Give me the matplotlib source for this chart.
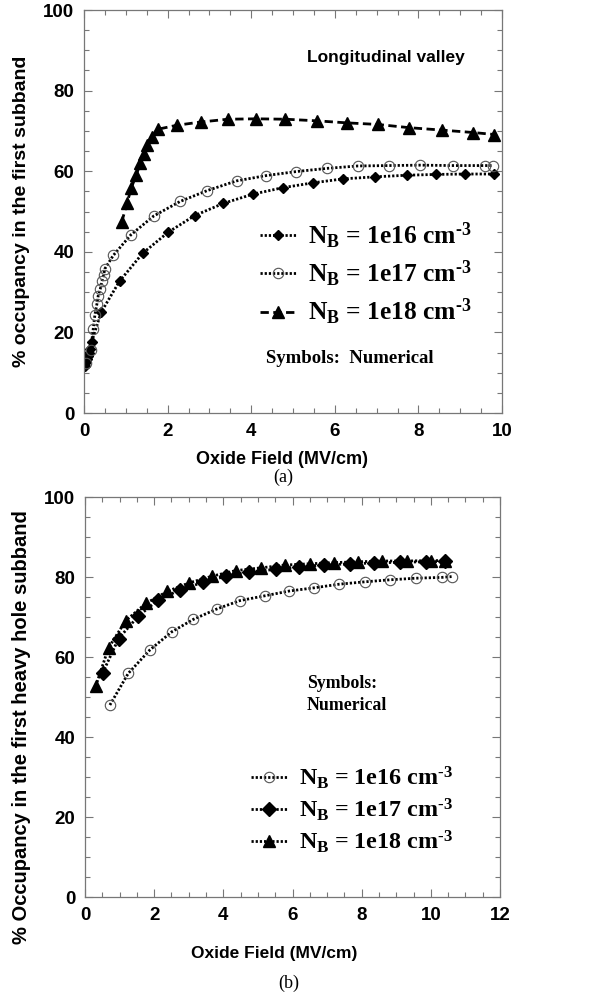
import matplotlib
matplotlib.use("Agg")
import matplotlib.pyplot as plt

plt.rcParams['font.family'] = ['Liberation Sans', 'DejaVu Sans']
plt.rcParams['font.weight'] = 'bold'
plt.rcParams['mathtext.fontset'] = 'custom'
plt.rcParams['mathtext.rm'] = 'Liberation Serif:bold'
plt.rcParams['mathtext.it'] = 'Liberation Serif:bold'
plt.rcParams['mathtext.bf'] = 'Liberation Serif:bold'

# ---- panel (a): longitudinal valley ----
a16_x = [0.03, 0.055, 0.07, 0.09, 0.11, 0.14, 0.18, 0.41, 0.85, 1.40, 2.02, 2.65,
         3.33, 4.04, 4.75, 5.47, 6.20, 6.96, 7.72, 8.42, 9.12, 9.81]
a16_y = [11.6, 12.6, 13.3, 14.1, 14.9, 15.9, 17.5, 25.0, 32.7, 39.6, 44.9, 49.0,
         52.0, 54.3, 55.9, 57.1, 58.1, 58.6, 59.0, 59.2, 59.3, 59.3]

a17_x = [0.05, 0.16, 0.22, 0.26, 0.31, 0.34, 0.39, 0.43, 0.47, 0.50, 0.70, 1.12,
         1.67, 2.30, 2.95, 3.65, 4.35, 5.07, 5.81, 6.55, 7.30, 8.05, 8.82, 9.59, 9.79]
a17_y = [12.5, 15.7, 20.8, 24.3, 27.1, 29.1, 30.8, 32.7, 34.3, 35.8, 39.1, 44.2,
         48.9, 52.5, 55.2, 57.6, 58.9, 59.9, 60.7, 61.3, 61.4, 61.5, 61.4, 61.4, 61.4]

a18_x = [0.90, 1.03, 1.13, 1.25, 1.35, 1.43, 1.51, 1.62, 1.76, 2.22, 2.79, 3.44,
         4.11, 4.82, 5.57, 6.28, 7.03, 7.78, 8.56, 9.31, 9.82]
a18_y = [47.3, 52.1, 55.8, 59.1, 62.0, 64.3, 66.4, 68.6, 70.4, 71.4, 72.2, 72.9,
         73.0, 72.9, 72.5, 72.0, 71.6, 70.8, 70.2, 69.6, 69.1]

# ---- panel (b): heavy hole subband ----
b16_x = [0.72, 1.25, 1.88, 2.51, 3.13, 3.81, 4.48, 5.20, 5.91, 6.63, 7.35, 8.10,
         8.82, 9.57, 10.31, 10.60]
b16_y = [48.0, 55.9, 61.8, 66.3, 69.4, 72.0, 74.1, 75.3, 76.5, 77.3, 78.2, 78.8,
         79.3, 79.7, 79.9, 80.1]

b17_x = [0.51, 0.97, 1.54, 2.12, 2.76, 3.42, 4.08, 4.75, 5.51, 6.20, 6.92, 7.65,
         8.37, 9.10, 9.85, 10.42]
b17_y = [56.0, 64.6, 70.2, 74.3, 76.8, 78.7, 80.2, 81.3, 81.9, 82.6, 83.0, 83.3,
         83.5, 83.7, 83.8, 83.9]

b18_x = [0.31, 0.68, 1.18, 1.76, 2.38, 3.00, 3.67, 4.36, 5.10, 5.79, 6.50, 7.20,
         7.90, 8.60, 9.30, 10.00, 10.40]
b18_y = [52.7, 62.3, 69.1, 73.4, 76.4, 78.5, 80.2, 81.6, 82.3, 83.0, 83.3, 83.6,
         83.8, 84.0, 84.0, 84.1, 84.1]

labels = ['$\\mathrm{N_B}$ = 1e16 cm$^{\u2010\\mathrm{3}}$',
          '$\\mathrm{N_B}$ = 1e17 cm$^{\u2010\\mathrm{3}}$',
          '$\\mathrm{N_B}$ = 1e18 cm$^{\u2010\\mathrm{3}}$']

dots = (0, (0.8, 0.7))
dashes = (0, (3.0, 1.6))
spine_col = '#777777'

fig = plt.figure(figsize=(6.04, 9.96), dpi=100)
ax1 = fig.add_axes([84/604, 1-413/996, 418/604, 403/996])
ax2 = fig.add_axes([85/604, 1-897/996, 415/604, 400/996])


def style_axes(ax, xmax):
    ax.set_xlim(0, xmax)
    ax.set_ylim(0, 100)
    ax.set_xticks(range(0, xmax + 1, 2))
    ax.set_yticks(range(0, 101, 20))
    ax.set_xticks([i * 0.5 for i in range(0, 2 * xmax + 1)], minor=True)
    ax.set_yticks(range(0, 101, 5), minor=True)
    for s in ax.spines.values():
        s.set_color(spine_col)
        s.set_linewidth(0.9)
    ax.tick_params(which='both', direction='in', top=True, right=True,
                   color=spine_col, width=0.8, labelsize=13.5, pad=7)
    ax.tick_params(which='major', length=6)
    ax.tick_params(which='minor', length=3.5)
    for t in ax.get_xticklabels() + ax.get_yticklabels():
        t.set_fontweight('bold')


# panel (a)
ax1.plot(a16_x, a16_y, color='black', linestyle=dots, lw=2.0, marker='D',
         ms=4.8, mfc='black', mec='black', label=labels[0])
ax1.plot(a17_x, a17_y, color='black', linestyle=dots, lw=2.0, marker='o',
         ms=7.5, mfc='none', mec='#555555', mew=0.8, label=labels[1])
ax1.plot(a18_x, a18_y, color='black', linestyle=dashes, lw=2.0, marker='^',
         ms=8.5, mfc='black', mec='black', label=labels[2])
style_axes(ax1, 10)
ax1.legend(loc='center left', bbox_to_anchor=(0.42, 0.345), frameon=False,
           borderpad=0, borderaxespad=0, handlelength=1.45, handletextpad=0.45,
           labelspacing=0.32, prop={'family': 'Liberation Serif', 'weight': 'bold', 'size': 18.4})
ax1.text(0.533, 0.881, 'Longitudinal valley', transform=ax1.transAxes,
         fontsize=12.5, fontweight='bold', ha='left', va='center')
ax1.text(0.435, 0.136, 'Symbols:  Numerical', transform=ax1.transAxes,
         family='Liberation Serif', fontsize=13.5, fontweight='bold', ha='left', va='center')

# panel (b)
ax2.plot(b16_x, b16_y, color='black', linestyle=dots, lw=2.0, marker='o',
         ms=7.5, mfc='none', mec='#555555', mew=0.8, label=labels[0])
ax2.plot(b17_x, b17_y, color='black', linestyle=dots, lw=2.0, marker='D',
         ms=7.0, mfc='black', mec='black', label=labels[1])
ax2.plot(b18_x, b18_y, color='black', linestyle=dots, lw=2.0, marker='^',
         ms=8.5, mfc='black', mec='black', label=labels[2])
style_axes(ax2, 12)
ax2.legend(loc='center left', bbox_to_anchor=(0.40, 0.2175), frameon=False,
           borderpad=0, borderaxespad=0, handlelength=1.5, handletextpad=0.5,
           labelspacing=0.22, prop={'family': 'Liberation Serif', 'weight': 'bold', 'size': 17.3})
ax2.text(0.535, 0.506, 'Symbols:\nNumerical', transform=ax2.transAxes,
         family='Liberation Serif', fontsize=12.8, fontweight='bold', ha='left',
         va='center', linespacing=1.35)

# axis labels and panel tags
fig.text(22/604, 1-(52+370)/2/996, '% occupancy in the first subband', rotation=90,
         ha='center', va='center', fontsize=14, fontweight='bold')
fig.text(281.5/604, 1-460/996, 'Oxide Field (MV/cm)', ha='center', va='center',
         fontsize=13, fontweight='bold')
fig.text(283/604, 1-477/996, '(a)', ha='center', va='center',
         family='Liberation Serif', fontsize=13, fontweight='normal')

fig.text(22/604, 1-(505+950)/2/996, '% Occupancy in the first heavy hole subband',
         rotation=90, ha='center', va='center', fontsize=14.5, fontweight='bold')
fig.text(274/604, 1-953/996, 'Oxide Field (MV/cm)', ha='center', va='center',
         fontsize=12.5, fontweight='bold')
fig.text(288.5/604, 1-983/996, '(b)', ha='center', va='center',
         family='Liberation Serif', fontsize=13, fontweight='normal')

fig.savefig('out.png', dpi=100)
